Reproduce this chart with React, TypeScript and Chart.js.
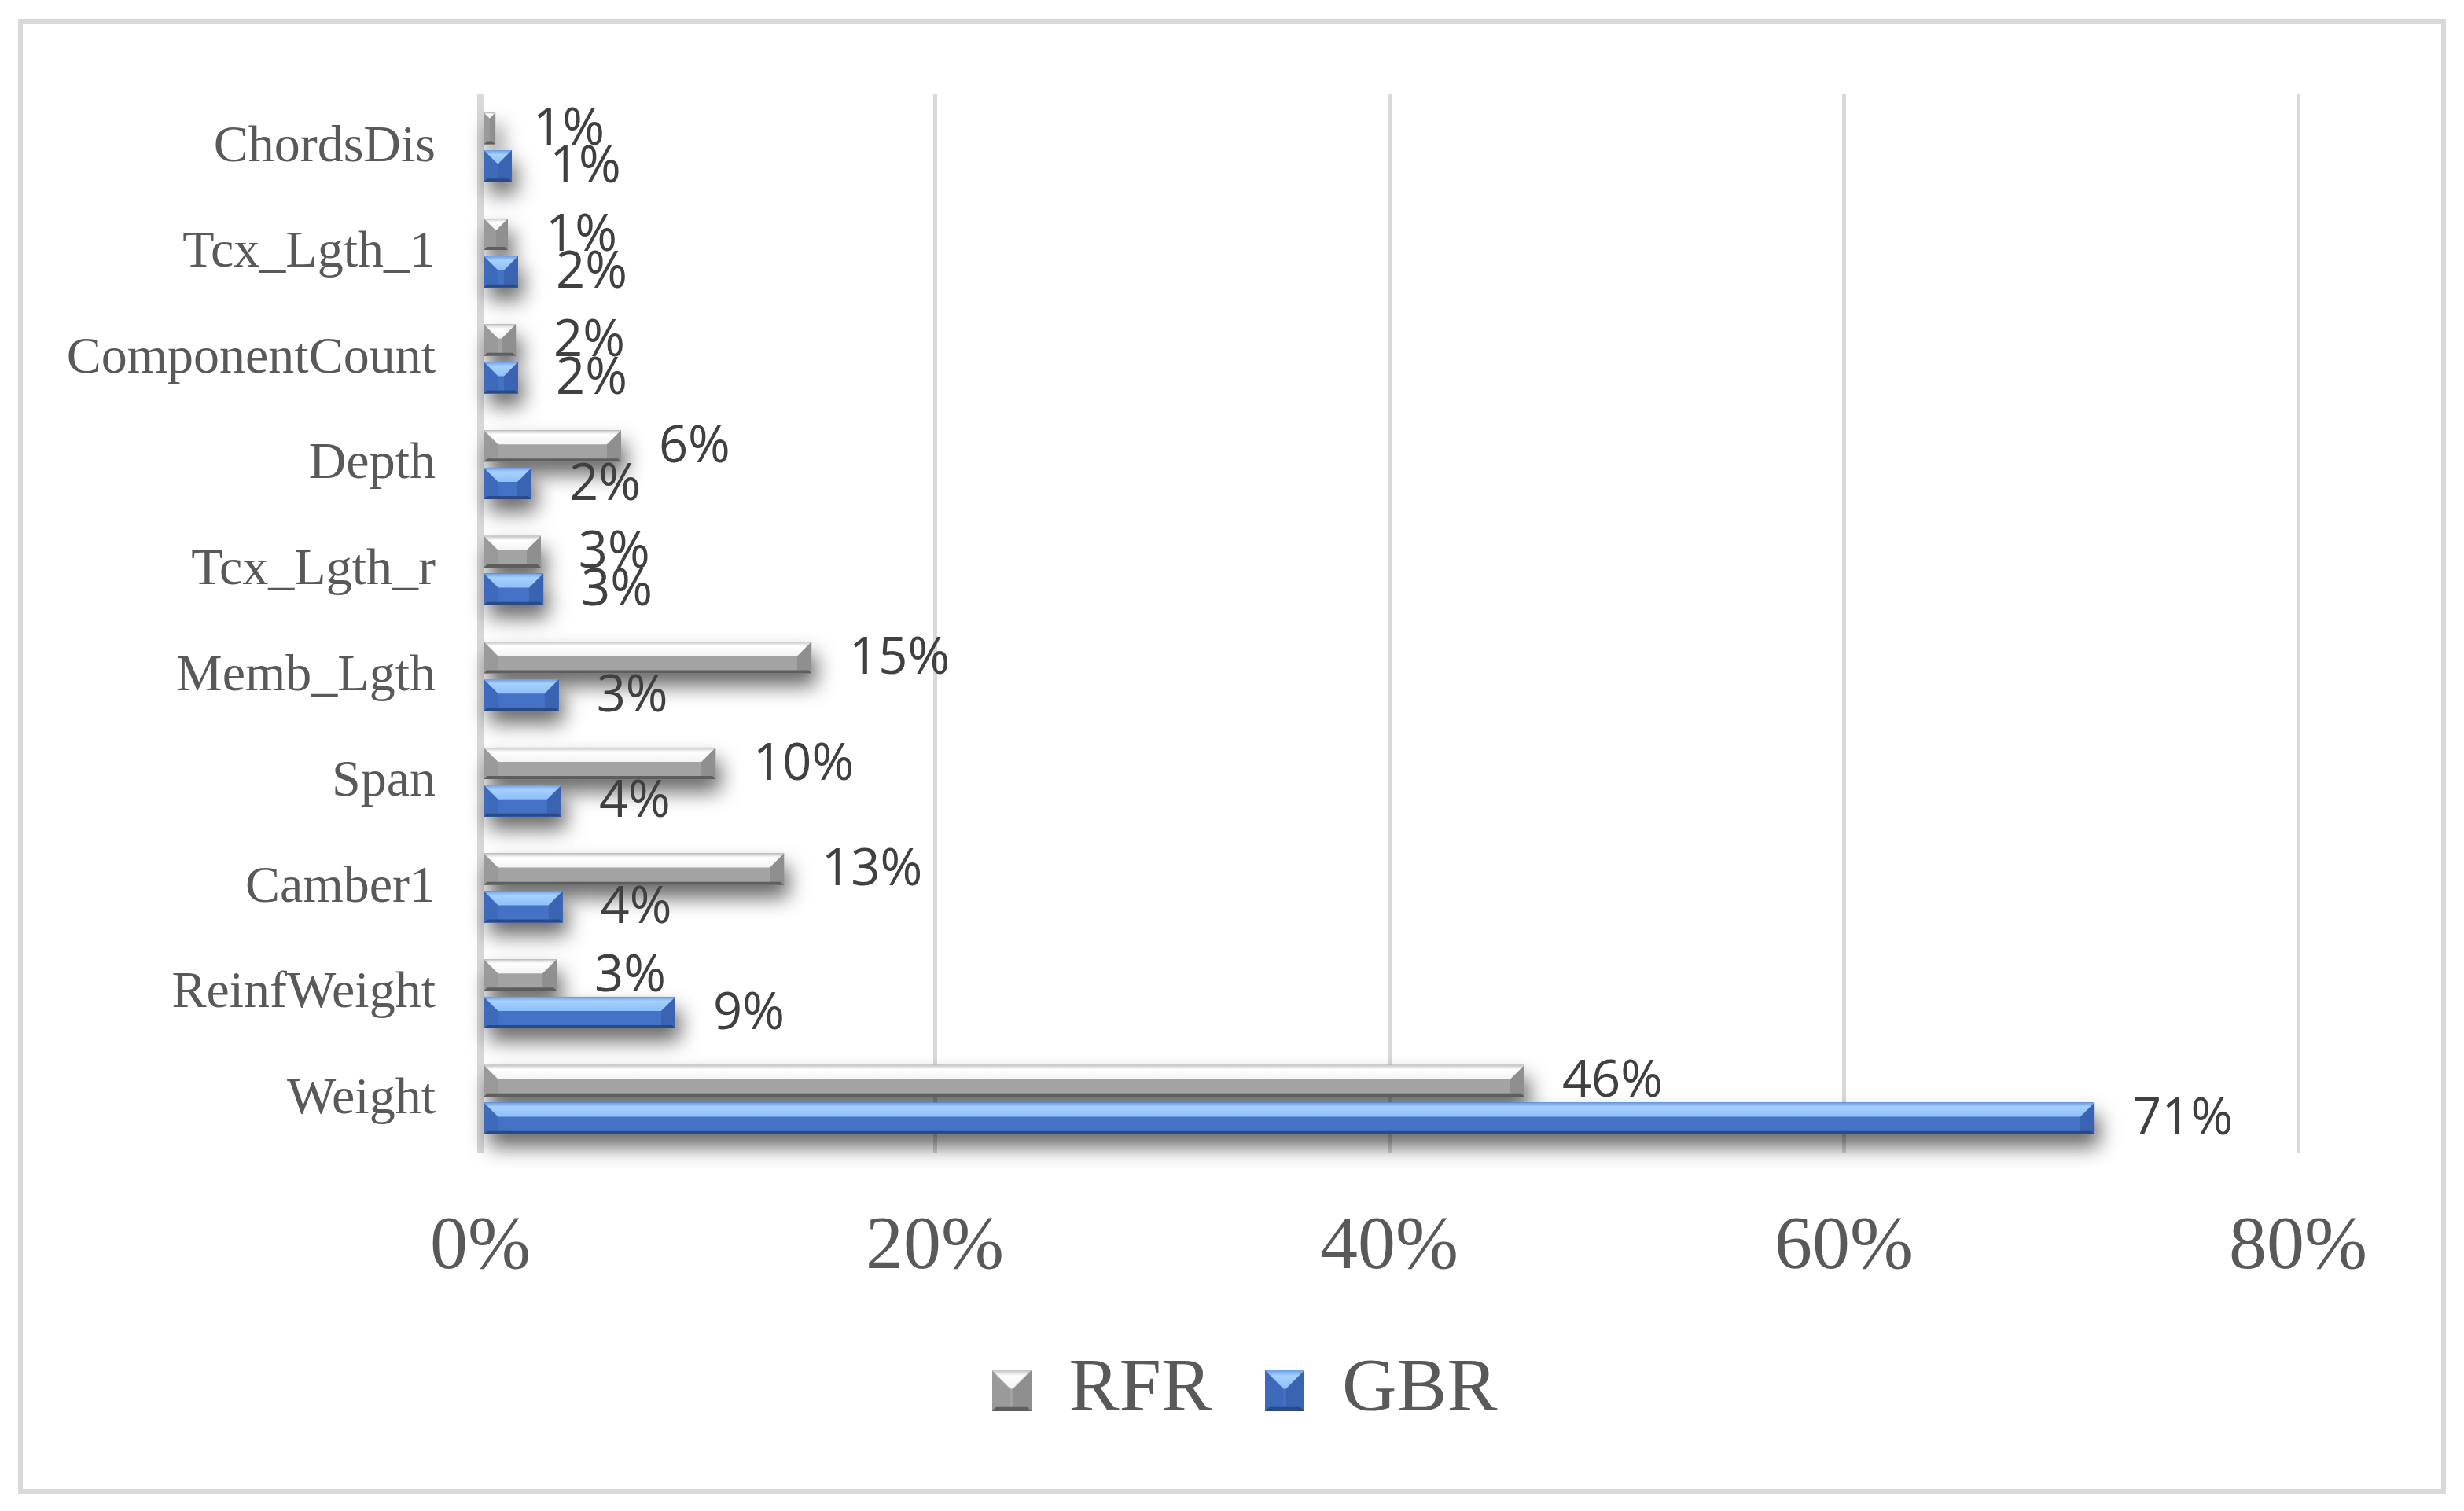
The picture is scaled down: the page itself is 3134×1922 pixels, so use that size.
import React, { useEffect, useRef } from 'react';
import { Chart, registerables } from 'chart.js';

Chart.register(...registerables);

// ---- data ----
const categories = ['ChordsDis', 'Tcx_Lgth_1', 'ComponentCount', 'Depth', 'Tcx_Lgth_r', 'Memb_Lgth', 'Span', 'Camber1', 'ReinfWeight', 'Weight'];
const seriesNames = ['RFR', 'GBR'];
const rfrValues = [0.66, 1.21, 1.56, 6.19, 2.66, 14.57, 10.35, 13.36, 3.36, 45.95];
const gbrValues = [1.38, 1.66, 1.66, 2.25, 2.77, 3.45, 3.56, 3.62, 8.58, 71.04];
const axisMin = 0;
const axisMax = 80;
const axisStep = 20;

// ---- styles ----
const RFR_PAL = { mid: '#a3a3a3', top0: '#c4c4c4', top1: '#ffffff', top2: '#f3f3f3', left: '#9a9a9a', right: '#8f8f8f', bottom: '#5e5e5e' };
const GBR_PAL = { mid: '#4472c4', top0: '#6b9de6', top1: '#a6d1ff', top2: '#8ebff8', left: '#3e6abb', right: '#3a64b2', bottom: '#2a4a85' };
const PALS = [RFR_PAL, GBR_PAL];

function drawBevel(ctx: CanvasRenderingContext2D, x0: number, y0: number, x1: number, y1: number, p: any) {
  const w = x1 - x0;
  const h = y1 - y0;
  if (w <= 0 || h <= 0) return;
  const d = Math.min(h * 0.45, w / 2);
  const b = Math.min(h * 0.1, w / 2);
  ctx.save();
  ctx.fillStyle = p.left;
  ctx.beginPath();
  ctx.moveTo(x0, y0); ctx.lineTo(x0 + d, y0 + d); ctx.lineTo(x0 + d, y1 - b); ctx.lineTo(x0, y1);
  ctx.closePath(); ctx.fill();
  ctx.fillStyle = p.right;
  ctx.beginPath();
  ctx.moveTo(x1, y0); ctx.lineTo(x1 - d, y0 + d); ctx.lineTo(x1 - d, y1 - b); ctx.lineTo(x1, y1);
  ctx.closePath(); ctx.fill();
  if (w > 2 * d) {
    ctx.fillStyle = p.mid;
    ctx.fillRect(x0 + d, y0 + d, w - 2 * d, h - d - b);
  }
  const g = ctx.createLinearGradient(0, y0, 0, y0 + d);
  g.addColorStop(0, p.top0);
  g.addColorStop(0.3, p.top1);
  g.addColorStop(1, p.top2);
  ctx.fillStyle = g;
  ctx.beginPath();
  ctx.moveTo(x0, y0); ctx.lineTo(x1, y0); ctx.lineTo(x1 - d, y0 + d); ctx.lineTo(x0 + d, y0 + d);
  ctx.closePath(); ctx.fill();
  ctx.fillStyle = p.bottom;
  ctx.beginPath();
  ctx.moveTo(x0, y1); ctx.lineTo(x1, y1); ctx.lineTo(x1 - b, y1 - b); ctx.lineTo(x0 + b, y1 - b);
  ctx.closePath(); ctx.fill();
  ctx.restore();
}

function makeIcon(p: any) {
  const c = document.createElement('canvas');
  c.width = 50;
  c.height = 52;
  const ctx = c.getContext('2d')!;
  ctx.fillStyle = p.mid;
  ctx.fillRect(0, 0, 50, 52);
  drawBevel(ctx, 0, 0, 50, 52, p);
  return c;
}

function barRect(el: any) {
  const { x, y, base, height } = el.getProps(['x', 'y', 'base', 'height'], true);
  return { x0: Math.min(base, x), x1: Math.max(base, x), y0: y - height / 2, y1: y + height / 2, y };
}

export default function App() {
  const ref = useRef<HTMLCanvasElement>(null);

  useEffect(() => {
    const canvas = ref.current!;
    const icons = PALS.map((p) => makeIcon(p));

    const decoPlugin = {
      id: 'deco',
      beforeDraw(chart: any) {
        const ctx = chart.ctx;
        ctx.save();
        ctx.fillStyle = '#ffffff';
        ctx.fillRect(0, 0, chart.width, chart.height);
        ctx.strokeStyle = '#d9d9d9';
        ctx.lineWidth = 6;
        ctx.strokeRect(26, 27, 3082, 1870);
        ctx.restore();
      },
      beforeDatasetsDraw(chart: any) {
        const ctx = chart.ctx;
        chart.data.datasets.forEach((ds: any, i: number) => {
          const meta = chart.getDatasetMeta(i);
          meta.data.forEach((el: any) => {
            const r = barRect(el);
            ctx.save();
            ctx.shadowColor = 'rgba(0,0,0,0.6)';
            ctx.shadowBlur = 26;
            ctx.shadowOffsetX = 6;
            ctx.shadowOffsetY = 16;
            ctx.fillStyle = PALS[i].mid;
            ctx.fillRect(r.x0, r.y0, r.x1 - r.x0, r.y1 - r.y0);
            ctx.restore();
          });
        });
      },
      afterDatasetsDraw(chart: any) {
        const ctx = chart.ctx;
        chart.data.datasets.forEach((ds: any, i: number) => {
          const meta = chart.getDatasetMeta(i);
          meta.data.forEach((el: any) => {
            const r = barRect(el);
            drawBevel(ctx, r.x0, r.y0, r.x1, r.y1, PALS[i]);
          });
        });
        ctx.save();
        ctx.font = '65px "Open Sans"';
        ctx.fillStyle = '#404040';
        ctx.textAlign = 'left';
        ctx.textBaseline = 'middle';
        chart.data.datasets.forEach((ds: any, i: number) => {
          const meta = chart.getDatasetMeta(i);
          meta.data.forEach((el: any, j: number) => {
            const r = barRect(el);
            const v = ds.data[j];
            ctx.fillText(Math.round(v) + '%', r.x1 + 48, r.y + 2);
          });
        });
        ctx.restore();
      },
    };

    const chart = new Chart(canvas, {
      type: 'bar',
      data: {
        labels: categories,
        datasets: [
          { label: seriesNames[0], data: rfrValues, backgroundColor: RFR_PAL.mid, borderWidth: 0, categoryPercentage: 0.71, barPercentage: 0.84 },
          { label: seriesNames[1], data: gbrValues, backgroundColor: GBR_PAL.mid, borderWidth: 0, categoryPercentage: 0.71, barPercentage: 0.84 },
        ],
      },
      options: {
        indexAxis: 'y',
        animation: false,
        responsive: false,
        maintainAspectRatio: false,
        devicePixelRatio: 1,
        layout: { padding: { left: 32, right: 0, top: 120, bottom: 95 } },
        scales: {
          x: {
            type: 'linear',
            min: axisMin,
            max: axisMax,
            ticks: {
              stepSize: axisStep,
              callback: (v: any) => v + '%',
              font: { family: '"Liberation Serif"', size: 96 },
              color: '#595959',
              padding: 64,
              maxRotation: 0,
            },
            grid: {
              color: '#d9d9d9',
              lineWidth: (c: any) => (c.tick && c.tick.value === 0 ? 9 : 5),
              drawTicks: false,
            },
            border: { display: false },
            afterFit: (s: any) => { s.height = 187; },
          },
          y: {
            type: 'category',
            position: 'left',
            ticks: {
              font: { family: '"Liberation Serif"', size: 66 },
              color: '#595959',
              padding: 57,
            },
            grid: { display: false, drawTicks: false },
            border: { display: false },
            afterFit: (s: any) => { s.width = 579; },
          },
          y2: {
            type: 'category',
            axis: 'y',
            position: 'right',
            ticks: { display: false },
            grid: { display: false, drawTicks: false },
            border: { display: false },
            afterFit: (s: any) => { s.width = 211; },
          },
        },
        plugins: {
          tooltip: { enabled: false },
          legend: {
            position: 'bottom',
            labels: {
              usePointStyle: true,
              pointStyleWidth: 50,
              boxHeight: 52,
              padding: 68,
              color: '#595959',
              font: { family: '"Liberation Serif"', size: 96 },
              generateLabels: (ch: any) => {
                const items = (Chart as any).defaults.plugins.legend.labels.generateLabels(ch);
                items.forEach((it: any, i: number) => {
                  it.pointStyle = icons[i];
                  it.lineWidth = 0;
                });
                return items;
              },
            },
          },
        },
      },
      plugins: [decoPlugin],
    } as any);

    return () => chart.destroy();
  }, []);

  return (
    <div style={{ position: 'absolute', left: 0, top: 0, width: 3134, height: 1922, background: '#ffffff' }}>
      <canvas ref={ref} width={3134} height={1922} style={{ display: 'block', width: 3134, height: 1922 }} />
    </div>
  );
}
